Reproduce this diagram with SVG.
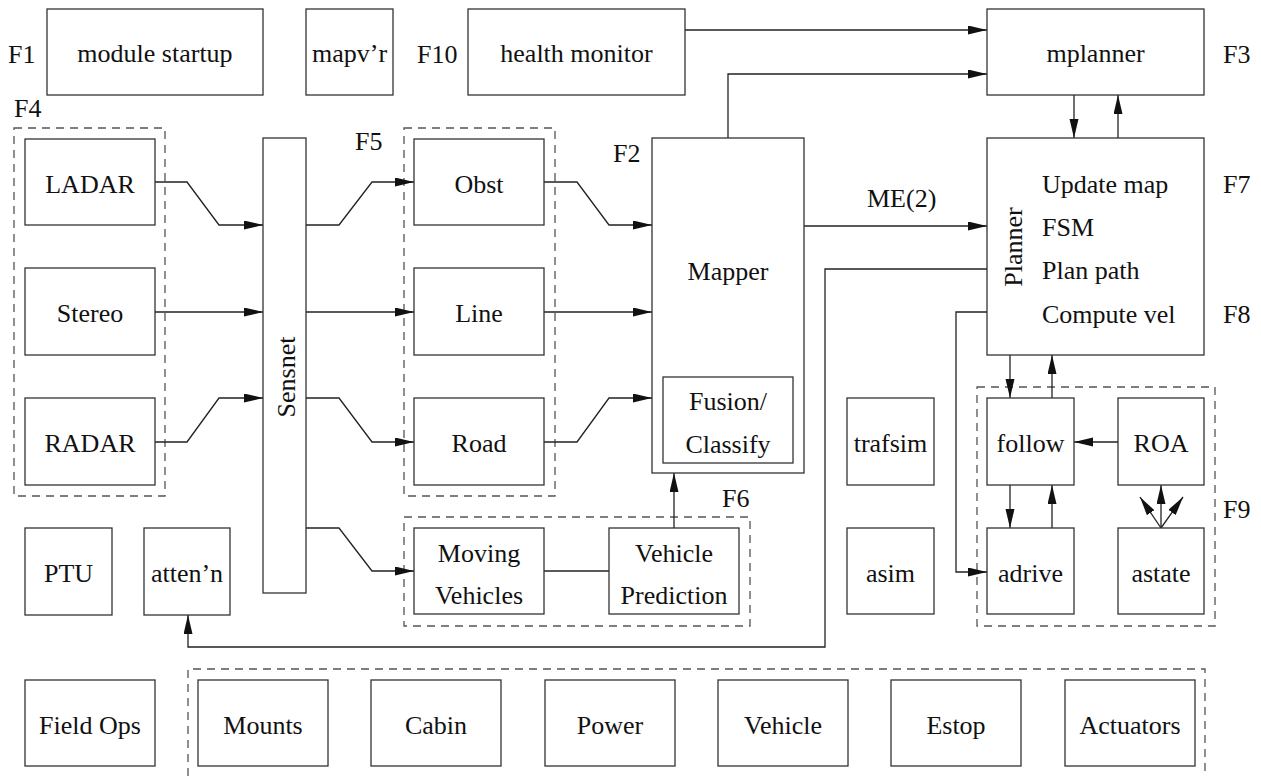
<svg xmlns="http://www.w3.org/2000/svg" width="1261" height="776" viewBox="0 0 1261 776">
<style>
.b{fill:#fff;stroke:#333;stroke-width:1.3}
.d{fill:none;stroke:#555;stroke-width:1.3;stroke-dasharray:8 6}
.c{fill:none;stroke:#222;stroke-width:1.3}
.a{marker-end:url(#ah)}
text{font-family:'Liberation Serif','Times New Roman',Times,'DejaVu Serif',serif;font-size:26px;fill:#111}
.m{text-anchor:middle}
</style>
<defs>
<marker id="ah" markerUnits="userSpaceOnUse" markerWidth="20" markerHeight="10" refX="19" refY="4.5" orient="auto"><path d="M0,0 L19,4.5 L0,9 z" fill="#111"/></marker>
</defs>
<rect width="1261" height="776" fill="#fff"/>
<g id="groups">
<rect class="d" x="14" y="128" width="151" height="368"/>
<rect class="d" x="404" y="128" width="151" height="368"/>
<rect class="d" x="404" y="517" width="346" height="109"/>
<rect class="d" x="977" y="387" width="238" height="239"/>
<path class="d" d="M188,776 V669 H1205 V776"/>
</g>
<g id="labels" font-family="Liberation Serif, serif">
<text x="8" y="63">F1</text>
<text x="417" y="63">F10</text>
<text x="1223" y="63">F3</text>
<text x="14" y="117">F4</text>
<text x="355" y="150">F5</text>
<text x="613" y="162">F2</text>
<text x="1223" y="193">F7</text>
<text x="1223" y="323">F8</text>
<text x="1223" y="518">F9</text>
<text x="722" y="507">F6</text>
<text x="867" y="207">ME(2)</text>
</g>
<g id="connectors">
<path class="c a" d="M685,30 H987"/>
<path class="c a" d="M728,138 V74 H987"/>
<path class="c a" d="M804,226 H987"/>
<path class="c a" d="M1074,95 V138"/>
<path class="c a" d="M1118,138 V95"/>
<path class="c a" d="M155,182 H187 L219,225 H263"/>
<path class="c a" d="M155,312 H263"/>
<path class="c a" d="M155,442 H187 L219,398 H263"/>
<path class="c a" d="M306,225 H339 L372,182 H414"/>
<path class="c a" d="M306,312 H414"/>
<path class="c a" d="M306,398 H339 L372,442 H414"/>
<path class="c a" d="M306,528 H339 L372,571 H414"/>
<path class="c a" d="M544,182 H577 L609,225 H652"/>
<path class="c a" d="M544,312 H652"/>
<path class="c a" d="M544,442 H577 L609,398 H652"/>
<path class="c" d="M544,571 H609"/>
<path class="c a" d="M674,528 V473"/>
<path class="c a" d="M987,269 H825 V647 H188 V615"/>
<path class="c a" d="M987,312 H956 V572 H987"/>
<path class="c a" d="M1010,355 V398"/>
<path class="c a" d="M1052,398 V355"/>
<path class="c a" d="M1118,442 H1074"/>
<path class="c a" d="M1010,485 V528"/>
<path class="c a" d="M1052,528 V485"/>
<path class="c a" d="M1161,528 V485"/>
<path class="c a" d="M1161,528 L1140,497"/>
<path class="c a" d="M1161,528 L1183,497"/>
</g>
<g id="n_startup"><rect class="b" x="47" y="9" width="216" height="86"/><text class="m" x="155" y="62">module startup</text></g>
<g id="n_mapvr"><rect class="b" x="306" y="9" width="87" height="86"/><text class="m" x="349.5" y="62">mapv’r</text></g>
<g id="n_health"><rect class="b" x="468" y="9" width="217" height="86"/><text class="m" x="576.5" y="62">health monitor</text></g>
<g id="n_mplanner"><rect class="b" x="987" y="9" width="217" height="86"/><text class="m" x="1095.5" y="62">mplanner</text></g>
<g id="n_ladar"><rect class="b" x="25" y="139" width="130" height="86"/><text class="m" x="90" y="193">LADAR</text></g>
<g id="n_stereo"><rect class="b" x="25" y="268" width="130" height="87"/><text class="m" x="90" y="322">Stereo</text></g>
<g id="n_radar"><rect class="b" x="25" y="398" width="130" height="87"/><text class="m" x="90" y="452">RADAR</text></g>
<g id="n_sensnet"><rect class="b" x="263" y="138" width="43" height="455"/><text class="m" transform="translate(295,377) rotate(-90)">Sensnet</text></g>
<g id="n_obst"><rect class="b" x="414" y="139" width="130" height="86"/><text class="m" x="479" y="193">Obst</text></g>
<g id="n_line"><rect class="b" x="414" y="268" width="130" height="87"/><text class="m" x="479" y="322">Line</text></g>
<g id="n_road"><rect class="b" x="414" y="398" width="130" height="87"/><text class="m" x="479" y="452">Road</text></g>
<g id="n_mapper"><rect class="b" x="652" y="138" width="152" height="335"/><text class="m" x="728" y="280">Mapper</text></g>
<g id="n_fusion"><rect class="b" x="663" y="377" width="130" height="86"/><text class="m" x="728" y="410">Fusion/</text><text class="m" x="728" y="453">Classify</text></g>
<g id="n_planner"><rect class="b" x="987" y="138" width="217" height="217"/><text class="m" transform="translate(1022,247) rotate(-90)">Planner</text><text x="1042" y="193">Update map</text><text x="1042" y="236">FSM</text><text x="1042" y="279">Plan path</text><text x="1042" y="323">Compute vel</text></g>
<g id="n_follow"><rect class="b" x="987" y="398" width="87" height="87"/><text class="m" x="1030.5" y="452">follow</text></g>
<g id="n_roa"><rect class="b" x="1118" y="398" width="86" height="87"/><text class="m" x="1161" y="452">ROA</text></g>
<g id="n_adrive"><rect class="b" x="987" y="528" width="87" height="86"/><text class="m" x="1030.5" y="582">adrive</text></g>
<g id="n_astate"><rect class="b" x="1118" y="528" width="86" height="86"/><text class="m" x="1161" y="582">astate</text></g>
<g id="n_trafsim"><rect class="b" x="847" y="398" width="87" height="87"/><text class="m" x="890.5" y="452">trafsim</text></g>
<g id="n_asim"><rect class="b" x="847" y="528" width="87" height="86"/><text class="m" x="890.5" y="582">asim</text></g>
<g id="n_moving"><rect class="b" x="414" y="528" width="130" height="86"/><text class="m" x="479" y="562">Moving</text><text class="m" x="479" y="604">Vehicles</text></g>
<g id="n_vpred"><rect class="b" x="609" y="528" width="130" height="86"/><text class="m" x="674" y="562">Vehicle</text><text class="m" x="674" y="604">Prediction</text></g>
<g id="n_ptu"><rect class="b" x="25" y="528" width="87" height="87"/><text class="m" x="68.5" y="582">PTU</text></g>
<g id="n_atten"><rect class="b" x="144" y="528" width="86" height="87"/><text class="m" x="187" y="582">atten’n</text></g>
<g id="n_fieldops"><rect class="b" x="25" y="680" width="130" height="86"/><text class="m" x="90" y="734">Field Ops</text></g>
<g id="n_mounts"><rect class="b" x="198" y="680" width="130" height="86"/><text class="m" x="263" y="734">Mounts</text></g>
<g id="n_cabin"><rect class="b" x="371" y="680" width="130" height="86"/><text class="m" x="436" y="734">Cabin</text></g>
<g id="n_power"><rect class="b" x="545" y="680" width="130" height="86"/><text class="m" x="610" y="734">Power</text></g>
<g id="n_vehicle"><rect class="b" x="718" y="680" width="130" height="86"/><text class="m" x="783" y="734">Vehicle</text></g>
<g id="n_estop"><rect class="b" x="891" y="680" width="130" height="86"/><text class="m" x="956" y="734">Estop</text></g>
<g id="n_actuators"><rect class="b" x="1065" y="680" width="130" height="86"/><text class="m" x="1130" y="734">Actuators</text></g>
</svg>
